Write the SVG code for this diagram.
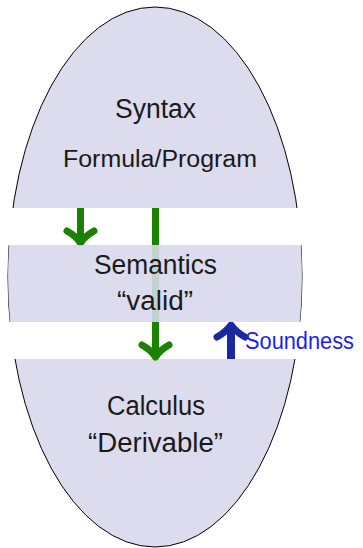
<svg xmlns="http://www.w3.org/2000/svg" width="363" height="548" viewBox="0 0 363 548">
<defs>
<style>
.lbl{font-family:"Liberation Sans",Arial,sans-serif;font-size:27px;fill:#1a1a1a;text-anchor:middle}
.sub{font-size:23.5px}
.snd{font-family:"Liberation Sans",Arial,sans-serif;font-size:23px;fill:#1e1eee}
.g{stroke:#1a8200;stroke-width:7;fill:none;stroke-linecap:butt}
.gh{stroke:#1a8200;stroke-width:7;fill:none;stroke-linecap:round;stroke-linejoin:round}
.b{stroke:#1c289e;stroke-width:8;fill:none}
.bh{stroke:#1c289e;stroke-width:7;fill:none;stroke-linecap:round;stroke-linejoin:round}
</style>
<clipPath id="midband"><rect x="0" y="245" width="363" height="77"/></clipPath>
</defs>
<rect width="363" height="548" fill="#ffffff"/>
<g id="ellipse">
<ellipse cx="155" cy="277" rx="147" ry="270" fill="#dcdcee" stroke="#000" stroke-width="1"/>
</g>
<g id="bands">
<rect x="0" y="208" width="363" height="37" fill="#ffffff"/>
<rect x="0" y="322" width="363" height="37" fill="#ffffff"/>
</g>
<g id="connectors">
<path class="g" d="M80.5,208 V240"/>
<path class="gh" d="M67,231 Q76,236 80.5,243 Q85,236 94,231"/>
<path class="g" d="M155.5,208 V354"/>
<path class="gh" d="M142,345 Q151,350 155.5,357 Q160,350 169,345"/>
<path class="b" d="M231,359 V327"/>
<path class="bh" d="M217,337 Q226,332 231,325 Q236,332 245,337"/>
</g>
<g id="semantics-overlay">
<ellipse cx="155" cy="277" rx="147" ry="270" fill="#dcdcee" fill-opacity="0.88" clip-path="url(#midband)"/>
</g>
<g id="syntax">
<text class="lbl" x="155.5" y="118" textLength="81" lengthAdjust="spacingAndGlyphs">Syntax</text>
<text class="lbl sub" x="160" y="167" textLength="194" lengthAdjust="spacingAndGlyphs">Formula/Program</text>
</g>
<g id="semantics">
<text class="lbl" x="155.5" y="274" textLength="123" lengthAdjust="spacingAndGlyphs">Semantics</text>
<text class="lbl" x="155" y="310" textLength="76" lengthAdjust="spacingAndGlyphs">“valid”</text>
</g>
<g id="calculus">
<text class="lbl" x="156" y="415" textLength="98" lengthAdjust="spacingAndGlyphs">Calculus</text>
<text class="lbl" x="155.5" y="452" textLength="135" lengthAdjust="spacingAndGlyphs">“Derivable”</text>
</g>
<g id="soundness">
<text class="snd" x="245" y="349" textLength="109" lengthAdjust="spacingAndGlyphs">Soundness</text>
</g>
</svg>
